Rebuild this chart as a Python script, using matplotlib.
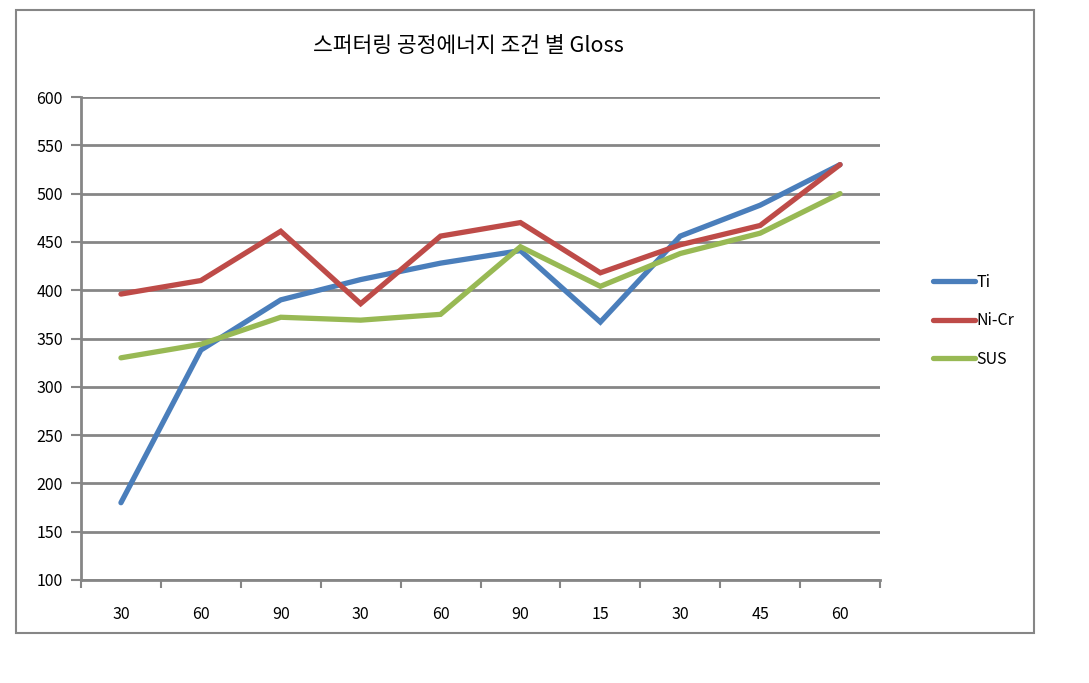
import numpy as np
import matplotlib.pyplot as plt
from matplotlib.patches import Rectangle

plt.rcParams['font.family'] = ['Noto Sans CJK KR', 'DejaVu Sans']

# categories (sputter time per condition) and gloss values
categories = ['30', '60', '90', '30', '60', '90', '15', '30', '45', '60']
ti = [180, 338, 390, 411, 428, 441, 367, 456, 488, 530]
nicr = [396, 410, 461, 386, 456, 470, 418, 447, 467, 530]
sus = [330, 344, 372, 369, 375, 445, 404, 438, 459, 500]

series_names = ['Ti', 'Ni-Cr', 'SUS']
colors = ['#4A7EBB', '#BE4B48', '#98B954']
grid_color = '#868686'

fig = plt.figure(figsize=(10.89, 6.83), dpi=100)
ax = fig.add_axes([81 / 1089, 103 / 683, 799 / 1089, 483 / 683])

x = np.arange(len(categories))
for vals, name, c in zip([ti, nicr, sus], series_names, colors):
    ax.plot(x, vals, color=c, lw=3.8, label=name, solid_capstyle='round',
            solid_joinstyle='miter')

ax.set_ylim(100, 600)
ax.set_yticks(np.arange(100, 601, 50))
ax.set_xlim(-0.5, len(categories) - 0.5)

# tick marks between categories, labels centred on categories
ax.set_xticks(np.arange(-0.5, len(categories), 1))
ax.set_xticklabels([])
ax.set_xticks(x, minor=True)
ax.set_xticklabels(categories, minor=True)
ax.tick_params(axis='x', which='major', length=6, width=1.5, color=grid_color)
ax.tick_params(axis='x', which='minor', length=0, pad=19, labelsize=11.5)
ax.tick_params(axis='y', length=7, width=1.5, color=grid_color, pad=6, labelsize=11.5)

ax.grid(axis='y', color=grid_color, lw=2)
ax.set_axisbelow(True)
for s in ['top', 'right']:
    ax.spines[s].set_visible(False)
for s in ['left', 'bottom']:
    ax.spines[s].set_color(grid_color)
    ax.spines[s].set_linewidth(2)

fig.text(468 / 1089, 1 - 46 / 683, '스퍼터링 공정에너지 조건 별 Gloss',
         ha='center', va='center', fontsize=15.5)

ax.legend(loc='center left', bbox_to_anchor=(919 / 1089, 1 - 321 / 683),
          bbox_transform=fig.transFigure, frameon=False, fontsize=11.5,
          handlelength=2.6, handletextpad=0.1, labelspacing=1.35)

fig.patches.append(Rectangle((16 / 1089, 50 / 683), 1018 / 1089, 623 / 683,
                             transform=fig.transFigure, fill=False,
                             edgecolor=grid_color, lw=1.5))

fig.savefig('out.png', dpi=100)
